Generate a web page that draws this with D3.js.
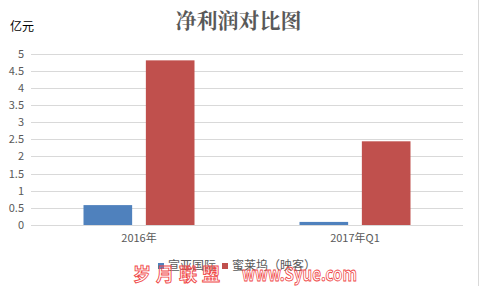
<!DOCTYPE html>
<html><head><meta charset="utf-8">
<script src="https://cdn.jsdelivr.net/npm/d3@7"></script>
<style>body{margin:0;background:#fff}svg{display:block}</style>
</head><body><div id="c"></div>
<script>
const categories = ["2016年", "2017年Q1"];
const seriesNames = ["宣亚国际", "蜜莱坞（映客）"];
const seriesA = [0.58, 0.09];
const seriesB = [4.80, 2.44];
const yTicks = [0, 0.5, 1, 1.5, 2, 2.5, 3, 3.5, 4, 4.5, 5];
const colors = ["#4f81bd", "#c0504d"];

(function () {
const W = 479, H = 286;
const svg = d3.select("#c").append("svg").attr("width", W).attr("height", H);
const font = "'Microsoft YaHei','Noto Sans CJK SC',sans-serif";

// right border
svg.append("line").attr("x1", 478.5).attr("x2", 478.5).attr("y1", 0).attr("y2", H).attr("stroke", "#d9d9d9");

const pl = 31, pr = 463, pt = 53.5, pb = 225;
const x = d3.scaleBand().domain(categories).range([pl, pr]).padding(0);
const y = d3.scaleLinear().domain([0, 5]).range([pb, pt]);

// gridlines
svg.append("g").selectAll("line").data(yTicks).join("line")
  .attr("x1", pl).attr("x2", pr)
  .attr("y1", d => Math.round(y(d)) + 0.5).attr("y2", d => Math.round(y(d)) + 0.5)
  .attr("stroke", "#d9d9d9").attr("stroke-width", 1);

// y axis labels
const yAxis = d3.axisLeft(y).tickValues(yTicks).tickSize(0).tickPadding(0).tickFormat(d3.format("~g"));
const ya = svg.append("g").attr("transform", `translate(24,0)`).call(yAxis);
ya.select(".domain").remove();
ya.selectAll("text").attr("fill", "#595959").style("font-family", font).style("font-size", "11px");

// x axis labels
const xAxis = d3.axisBottom(x).tickSize(0).tickPadding(0);
const xa = svg.append("g").attr("transform", `translate(0,${pb + 9})`).call(xAxis);
xa.select(".domain").remove();
xa.selectAll("text").attr("fill", "#595959").style("font-family", font).style("font-size", "11px");

// bars
const rows = categories.map((c, i) => ({c, vals: [seriesA[i], seriesB[i]]}));
const groupW = 111;
rows.forEach(r => {
  const cx = x(r.c) + x.bandwidth() / 2;
  const inner = d3.scaleBand().domain([0, 1]).range([cx - groupW / 2, cx + groupW / 2]).paddingInner(0.22).paddingOuter(0);
  svg.append("g").selectAll("rect").data(r.vals).join("rect")
    .attr("x", (d, j) => inner(j)).attr("width", inner.bandwidth())
    .attr("y", d => y(d)).attr("height", d => y(0) - y(d))
    .attr("fill", (d, j) => colors[j]);
});

// title
svg.append("text").attr("x", 238.5).attr("y", 28).attr("text-anchor", "middle")
  .attr("fill", "#595959").style("font-family", "'Noto Serif CJK SC','Noto Sans CJK SC',serif")
  .style("font-size", "21px").style("font-weight", "bold").text("净利润对比图");

// unit
svg.append("text").attr("x", 10).attr("y", 31).attr("fill", "#000")
  .style("font-family", font).style("font-size", "12px").text("亿元");

// legend
const lg = svg.append("g");
const legX = [158, 222];
seriesNames.forEach((n, i) => {
  lg.append("rect").attr("x", legX[i]).attr("y", 263).attr("width", 6).attr("height", 6).attr("fill", colors[i]);
  lg.append("text").attr("x", legX[i] + 10).attr("y", 270).attr("fill", "#595959")
    .style("font-family", font).style("font-size", "12px").text(n);
});

// watermark (outlined red text)
const wm = svg.append("g").attr("fill", "none").attr("stroke", "#f04848").attr("stroke-width", 0.9)
  .style("font-family", font).style("font-weight", "bold");
wm.append("text").attr("x", 133).attr("y", 281).style("font-size", "18px").attr("textLength", 87).attr("lengthAdjust", "spacing").text("岁月联盟");
wm.append("text").attr("x", 242).attr("y", 281).style("font-size", "19px").attr("textLength", 115).attr("lengthAdjust", "spacingAndGlyphs").text("www.Syue.com");
})();
</script></body></html>
